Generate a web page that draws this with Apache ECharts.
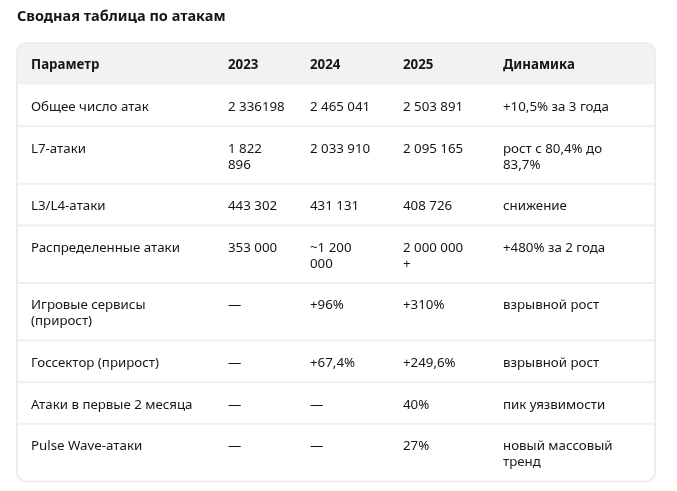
<!DOCTYPE html>
<html>
<head>
<meta charset="utf-8">
<script src="https://cdn.jsdelivr.net/npm/echarts@6/dist/echarts.min.js"></script>
<style>
html,body{margin:0;padding:0;background:#fff;}
#chart{width:677px;height:491px;}
</style>
</head>
<body>
<div id="chart"></div>
<script>
const title = 'Сводная таблица по атакам';
const headers = ['Параметр', '2023', '2024', '2025', 'Динамика'];
const params = ['Общее число атак', 'L7-атаки', 'L3/L4-атаки', 'Распределенные атаки', 'Игровые сервисы\n(прирост)', 'Госсектор (прирост)', 'Атаки в первые 2 месяца', 'Pulse Wave-атаки'];
const v2023 = ['2 336198', '1 822\n896', '443 302', '353 000', '—', '—', '—', '—'];
const v2024 = ['2 465 041', '2 033 910', '431 131', '~1 200\n000', '+96%', '+67,4%', '—', '—'];
const v2025 = ['2 503 891', '2 095 165', '408 726', '2 000 000\n+', '+310%', '+249,6%', '40%', '27%'];
const dynamics = ['+10,5% за 3 года', 'рост с 80,4% до\n83,7%', 'снижение', '+480% за 2 года', 'взрывной рост', 'взрывной рост', 'пик уязвимости', 'новый массовый\nтренд'];

const FONT = '"Noto Sans", "Open Sans", sans-serif';
const colX = [31, 228, 310, 403, 503];
const box = {x: 17, y: 43, w: 638};
const LINE = 16, PAD = 12.8, TEXT_SHIFT = 1.8;
const textColor = '#161616';

const columns = [params, v2023, v2024, v2025, dynamics];
const elements = [];

elements.push({
  type: 'text', x: 17, y: 16.5,
  style: {text: title, font: 'bold 14.5px ' + FONT, fill: '#161616', verticalAlign: 'middle'}
});

function rowHeight(cells) {
  let n = 1;
  cells.forEach(c => { n = Math.max(n, String(c).split('\n').length); });
  return PAD * 2 + n * LINE;
}

const rows = [headers];
for (let i = 0; i < params.length; i++) rows.push(columns.map(col => col[i]));
const tops = [];
let y = box.y;
rows.forEach(r => { tops.push(y); y += rowHeight(r); });
const bottom = y;

elements.push({
  type: 'rect', z: 0,
  shape: {x: box.x, y: box.y, width: box.w, height: bottom - box.y, r: 9},
  style: {fill: '#ffffff', stroke: '#ededed', lineWidth: 2}
});
elements.push({
  type: 'rect', z: 1,
  shape: {x: box.x + 1, y: box.y + 1, width: box.w - 2, height: rowHeight(headers) - 1, r: [8, 8, 0, 0]},
  style: {fill: '#f2f2f2'}
});
for (let i = 2; i < rows.length; i++) {
  elements.push({
    type: 'line', z: 1,
    shape: {x1: box.x + 1, y1: tops[i], x2: box.x + box.w - 1, y2: tops[i]},
    style: {stroke: '#efefef', lineWidth: 2}
  });
}
rows.forEach((r, ri) => {
  r.forEach((cell, ci) => {
    elements.push({
      type: 'text', z: 2,
      x: colX[ci], y: tops[ri] + PAD + TEXT_SHIFT,
      style: {
        text: cell,
        font: (ri === 0 ? 'bold ' : '') + '13.3px ' + FONT,
        lineHeight: LINE,
        fill: textColor,
        verticalAlign: 'top',
        align: 'left'
      }
    });
  });
});

const chart = echarts.init(document.getElementById('chart'), null, {renderer: 'canvas'});
chart.setOption({
  backgroundColor: '#ffffff',
  animation: false,
  graphic: {elements: elements}
});
</script>
</body>
</html>
